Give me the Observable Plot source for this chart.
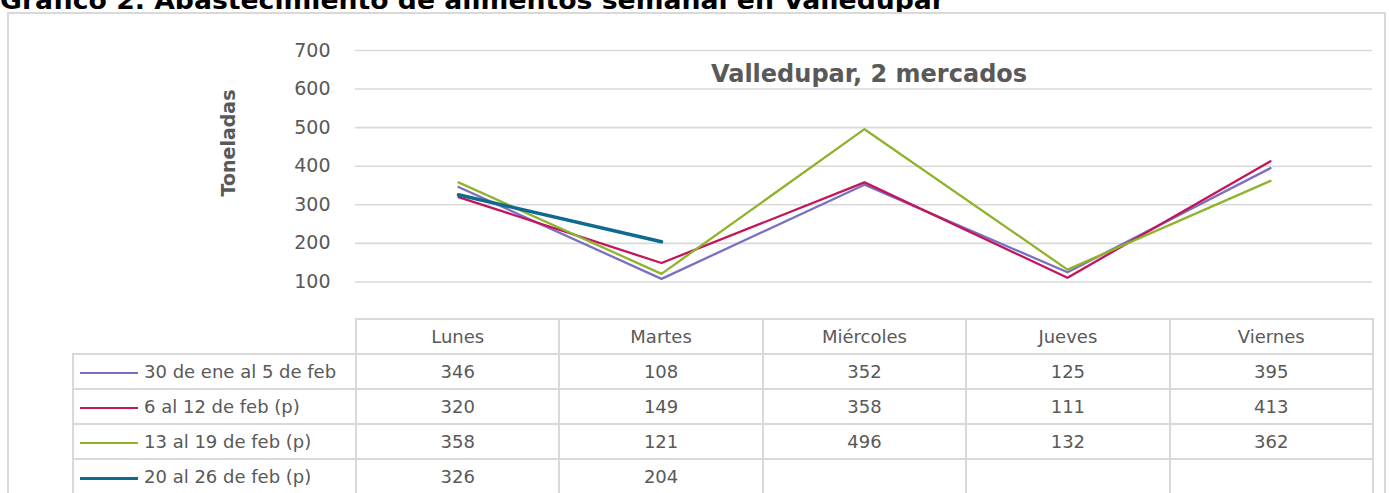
<!DOCTYPE html>
<html>
<head>
<meta charset="utf-8">
<script src="https://cdn.jsdelivr.net/npm/d3@7"></script>
<script src="https://cdn.jsdelivr.net/npm/@observablehq/plot@0.6"></script>
<style>
  html, body { margin: 0; padding: 0; background: #fff; }
  #wrap { position: relative; width: 1389px; height: 493px; overflow: hidden; background: #fff; font-family: "DejaVu Sans", sans-serif; }
  #title { position: absolute; left: 0; top: -11px; font: bold 24px "DejaVu Sans", sans-serif; line-height: 1; color: #000; white-space: nowrap; transform-origin: 0 0; }
  #frame { position: absolute; left: 7px; top: 12px; width: 1379px; height: 600px; border: 2px solid #d9d9d9; box-sizing: border-box; }
  #plot { position: absolute; left: 0; top: 0; }
  #tbl { position: absolute; left: 72px; top: 318px; border-collapse: collapse; table-layout: fixed; font: 18px "DejaVu Sans", sans-serif; color: #595959; }
  #tbl td { border: 2px solid #d9d9d9; height: 33px; padding: 0; text-align: center; white-space: nowrap; overflow: hidden; }
  #tbl td.blank { border: none; }
  #tbl td.leg { text-align: left; }
  .sw { display: inline-block; width: 58px; vertical-align: middle; margin: 0 6px 0 6px; }
</style>
</head>
<body>
<div id="wrap">
  <div id="title"></div>
  <div id="frame"></div>
  <div id="plot"></div>
</div>
<script>
const chartTitle = "Gráfico 2. Abastecimiento de alimentos semanal en Valledupar";
const innerTitle = "Valledupar, 2 mercados";
const yLabel = "Toneladas";
const days = ["Lunes", "Martes", "Miércoles", "Jueves", "Viernes"];
const seriesNames = ["30 de ene al 5 de feb", "6 al 12 de feb (p)", "13 al 19 de feb (p)", "20 al 26 de feb (p)"];
const seriesColors = ["#7a70c2", "#c4145a", "#8fb32b", "#10698e"];
const s1 = [346, 108, 352, 125, 395];
const s2 = [320, 149, 358, 111, 413];
const s3 = [358, 121, 496, 132, 362];
const s4 = [326, 204, null, null, null];
const yTicks = [100, 200, 300, 400, 500, 600, 700];

const seriesValues = [s1, s2, s3, s4];
const tidy = [];
seriesValues.forEach((vals, i) => {
  vals.forEach((v, j) => {
    if (v != null) tidy.push({series: seriesNames[i], day: days[j], value: v});
  });
});
const thin = tidy.filter(d => d.series !== seriesNames[3]);
const thick = tidy.filter(d => d.series === seriesNames[3]);

// Title
const t = document.getElementById("title");
t.textContent = chartTitle;
const tw = t.getBoundingClientRect().width;
t.style.transform = `scaleX(${945 / tw})`;

const plot = Plot.plot({
  width: 1389,
  height: 320,
  marginLeft: 355,
  marginRight: 17,
  marginTop: 50,
  marginBottom: 0,
  style: {fontFamily: "DejaVu Sans, sans-serif", background: "transparent", overflow: "visible"},
  x: {type: "point", domain: days, padding: 0.5, axis: null},
  y: {domain: [0, 700], ticks: yTicks, tickSize: 0, tickPadding: 25, label: null, tickFormat: d => String(d)},
  color: {domain: seriesNames, range: seriesColors},
  marks: [
    Plot.ruleY(yTicks, {stroke: "#d9d9d9", strokeWidth: 1.6}),
    Plot.axisY({ticks: yTicks, tickSize: 0, tickPadding: 25, fontSize: 19, color: "#595959", label: null}),
    Plot.text([yLabel], {frameAnchor: "left", text: d => d, rotate: -90, dx: -127, dy: 11, fontSize: 19, fontWeight: "bold", fill: "#595959"}),
    Plot.text([innerTitle], {frameAnchor: "top", text: d => d, dx: 5, dy: 14, fontSize: 24, fontWeight: "bold", fill: "#595959"}),
    Plot.line(thin, {x: "day", y: "value", z: "series", stroke: "series", strokeWidth: 2.3, curve: "linear"}),
    Plot.line(thick, {x: "day", y: "value", z: "series", stroke: "series", strokeWidth: 3.5, curve: "linear"})
  ]
});
document.getElementById("plot").appendChild(plot);

// Data table
const table = d3.select("#wrap").append("table").attr("id", "tbl");
const cg = table.append("colgroup");
cg.append("col").style("width", "283px");
days.forEach(() => cg.append("col").style("width", "203.4px"));
const head = table.append("tr");
head.append("td").attr("class", "blank");
days.forEach(d => head.append("td").text(d));
seriesNames.forEach((name, i) => {
  const tr = table.append("tr");
  const lc = tr.append("td").attr("class", "leg");
  lc.append("span").attr("class", "sw")
    .style("border-top", `${i === 3 ? 3.5 : 2.3}px solid ${seriesColors[i]}`);
  lc.append("span").text(name);
  seriesValues[i].forEach(v => tr.append("td").text(v == null ? "" : v));
});
</script>
</body>
</html>
